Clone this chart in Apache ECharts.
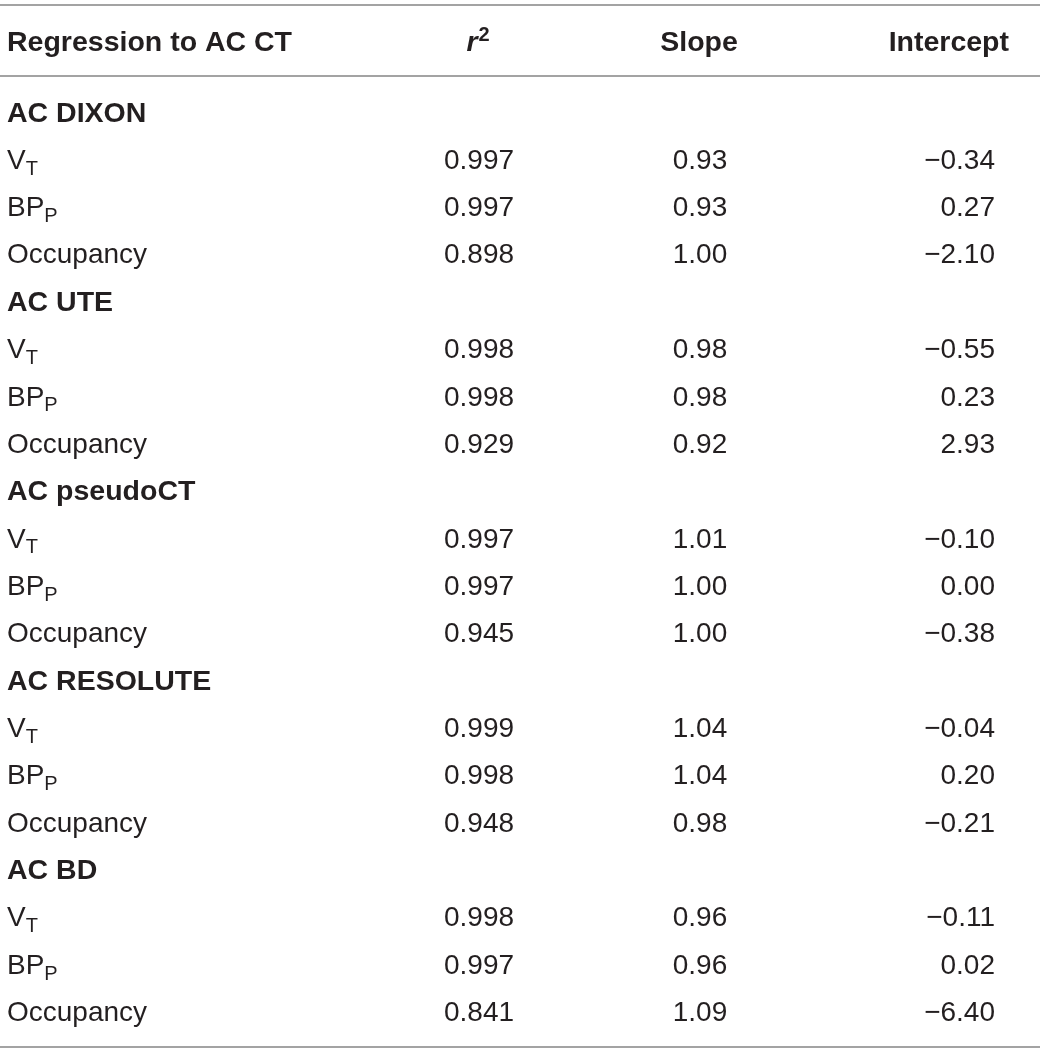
<!DOCTYPE html>
<html>

<head>
    <meta charset="utf-8">
    <title>Regression to AC CT</title>
    <script src="https://cdn.jsdelivr.net/npm/echarts@6/dist/echarts.min.js"></script>
    <style>
        html,
        body {
            margin: 0;
            padding: 0;
            height: 100%;
            overflow: hidden;
            background: #fff;
        }

        #main {
            width: 1040px;
            height: 1053px;
        }
    </style>
</head>

<body>
    <div id="main"></div>

    <script>
        // table content
        const headers = ['Regression to AC CT', '{i|r}{sup|2}', 'Slope', 'Intercept'];
        const groups = ['AC DIXON', 'AC UTE', 'AC pseudoCT', 'AC RESOLUTE', 'AC BD'];
        const measures = ['{n|V}{sub|T}', '{n|BP}{sub|P}', '{n|Occupancy}'];
        const r2 = [
            [0.997, 0.997, 0.898],
            [0.998, 0.998, 0.929],
            [0.997, 0.997, 0.945],
            [0.999, 0.998, 0.948],
            [0.998, 0.997, 0.841]
        ];
        const slope = [
            [0.93, 0.93, 1.00],
            [0.98, 0.98, 0.92],
            [1.01, 1.00, 1.00],
            [1.04, 1.04, 0.98],
            [0.96, 0.96, 1.09]
        ];
        const intercept = [
            [-0.34, 0.27, -2.10],
            [-0.55, 0.23, 2.93],
            [-0.10, 0.00, -0.38],
            [-0.04, 0.20, -0.21],
            [-0.11, 0.02, -6.40]
        ];

        const TEXT = '#231f20';
        const FONT = '"Liberation Sans", Arial, sans-serif';
        const FS = 28;
        const HFS = 28.5;

        // column anchors (x in px, axis runs 0..1040) and alignment
        const cols = [
            { x: 7, align: 'left' },
            { x: 479, align: 'center' },
            { x: 700, align: 'center' },
            { x: 995, align: 'right' }
        ];
        const headCols = [
            { x: 7, align: 'left' },
            { x: 478, align: 'center' },
            { x: 699, align: 'center' },
            { x: 1009, align: 'right' }
        ];

        const fmtNum = (v, d) => (v < 0 ? '\u2212' : '') + Math.abs(v).toFixed(d);

        // build rows: each group title followed by its three measures
        const labelPts = [];
        const groupPts = [];
        const r2Pts = [];
        const slopePts = [];
        const intPts = [];
        let row = 0;
        groups.forEach((g, gi) => {
            groupPts.push([cols[0].x, row, g]);
            row++;
            measures.forEach((m, mi) => {
                labelPts.push([cols[0].x, row, m]);
                r2Pts.push([cols[1].x, row, fmtNum(r2[gi][mi], 3)]);
                slopePts.push([cols[2].x, row, fmtNum(slope[gi][mi], 2)]);
                intPts.push([cols[3].x, row, fmtNum(intercept[gi][mi], 2)]);
                row++;
            });
        });
        const headPts = headers.map((h, i) => [headCols[i].x, -1.5, h]);

        const richBody = {
            n: { fontSize: FS, fontFamily: FONT, color: TEXT, lineHeight: 36 },
            sub: { fontSize: 20, fontFamily: FONT, color: TEXT, lineHeight: 36, verticalAlign: 'bottom', padding: [16, 0, 0, 0] }
        };
        const richHead = {
            i: { fontSize: HFS, fontFamily: FONT, color: TEXT, fontWeight: 'bold', fontStyle: 'italic', lineHeight: 34 },
            sup: { fontSize: 20, fontFamily: FONT, color: TEXT, fontWeight: 'bold', lineHeight: 34, padding: [0, 0, 14, 1] }
        };

        function textSeries(pts, align, extra) {
            return {
                type: 'scatter',
                symbolSize: 0,
                silent: true,
                itemStyle: { opacity: 1 },
                data: pts,
                label: Object.assign({
                    show: true,
                    position: 'inside',
                    align: align,
                    verticalAlign: 'middle',
                    offset: [0, 2],
                    opacity: 1,
                    color: TEXT,
                    fontFamily: FONT,
                    fontSize: FS,
                    formatter: p => p.data[2]
                }, extra || {})
            };
        }

        const chart = echarts.init(document.getElementById('main'));
        chart.setOption({
            animation: false,
            grid: { left: 0, right: 0, top: 0, bottom: 0 },
            xAxis: { type: 'value', min: 0, max: 1040, show: false },
            yAxis: { type: 'value', min: -2.36, max: 19.88, inverse: true, show: false },
            series: [
                Object.assign(textSeries([], 'left'), {
                    markLine: {
                        silent: true,
                        symbol: 'none',
                        label: { show: false },
                        lineStyle: { color: '#a3a3a3', width: 2, type: 'solid', opacity: 1 },
                        data: [{ yAxis: -2.25 }, { yAxis: -0.75 }, { yAxis: 19.75 }]
                    }
                }),
                textSeries(groupPts, 'left', { fontWeight: 'bold', fontSize: HFS }),
                textSeries(labelPts, 'left', { rich: richBody }),
                textSeries(r2Pts, 'center'),
                textSeries(slopePts, 'center'),
                textSeries(intPts, 'right'),
                textSeries(headPts.slice(0, 1), 'left', { fontWeight: 'bold', fontSize: HFS }),
                textSeries(headPts.slice(1, 2), 'center', { rich: richHead }),
                textSeries(headPts.slice(2, 3), 'center', { fontWeight: 'bold', fontSize: HFS }),
                textSeries(headPts.slice(3, 4), 'right', { fontWeight: 'bold', fontSize: HFS })
            ]
        });
    </script>

</body>

</html>
